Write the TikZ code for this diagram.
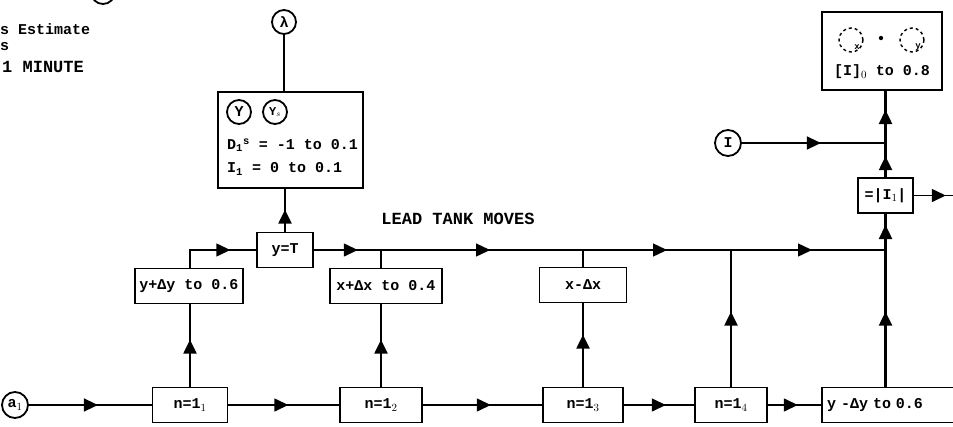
\documentclass[tikz,border=0pt]{standalone}
\usepackage{fontspec}
\setmonofont{Liberation Mono}
\usetikzlibrary{arrows.meta,decorations.markings}
\begin{document}
\begin{tikzpicture}[x=1pt,y=-1pt,
  font=\ttfamily\bfseries\fontsize{15}{17}\selectfont,
  box/.style={draw,line width=1.6pt,minimum height=35pt,inner sep=2pt},
  ln/.style={line width=1.4pt},
  vl/.style={line width=2.4pt},
  arr/.style={postaction={decorate},decoration={markings,mark=at position #1 with {\arrow{Triangle[length=14pt,width=13pt]}}}},
  circ/.style={draw,circle,line width=1.8pt,minimum size=24pt,inner sep=0pt},
  dcirc/.style={draw,circle,dashed,line width=1.4pt,minimum size=24pt,inner sep=0pt},
  small/.style={font=\ttfamily\bfseries\fontsize{9}{10}\selectfont},
  txt/.style={anchor=west,inner sep=0pt}]
\useasboundingbox (0,0) rectangle (953,426);

% left notes
\node[circ] (topc) at (103,-8) {};
\node[txt] (t1) at (0,29) {s Estimate};
\node[txt] (t2) at (0,47) {s};
\node[txt,font=\ttfamily\bfseries\fontsize{17}{19}\selectfont] (t3) at (2,67) {1 MINUTE};

% lambda and initial box
\node[circ] (lam) at (284,22) {λ};
\node[draw,line width=1.6pt,minimum width=145pt,minimum height=96pt] (bigbox) at (290.5,140) {};
\node[circ] (cY) at (239,112) {Y};
\node[circ,font=\ttfamily\bfseries\fontsize{12}{14}\selectfont] (cYs) at (275,112) {Y$_s$};
\node[txt] (dl) at (227,145) {D\textsubscript{1}\textsuperscript{s} = -1 to 0.1};
\node[txt] (il) at (227,169) {I\textsubscript{1} = 0 to 0.1};

\node[font=\ttfamily\bfseries\fontsize{17}{19}\selectfont] (lead) at (458,219) {LEAD TANK MOVES};

% top row
\node[box,minimum width=56pt] (yT) at (285,250) {y=T};
\node[box,minimum width=108pt] (ydy) at (189,286) {y+Δy to 0.6};
\node[box,minimum width=112pt] (xdx) at (386,286) {x+Δx to 0.4};
\node[box,minimum width=87pt] (xmdx) at (583,285) {x-Δx};

% bottom row
\node[circ,minimum size=26pt] (a1) at (15,405) {a$_1$};
\node[box,minimum width=75pt] (n1) at (190,405) {n=1$_1$};
\node[box,minimum width=82pt] (n2) at (381,405) {n=1$_2$};
\node[box,minimum width=80pt] (n3) at (583,405) {n=1$_3$};
\node[box,minimum width=72pt] (n4) at (731,405) {n=1$_4$};
\node[box,minimum width=142pt,text width=132pt,align=left] (ydy2) at (893,405) {y -Δy to 0.6};

% right column
\node[draw,line width=1.6pt,minimum width=120pt,minimum height=78pt] (trbox) at (882,51) {};
\node[dcirc] (cx) at (851,40) {};
\node[small] (cxl) at (857,47) {x};
\node (dot) at (881,40) {•};
\node[dcirc] (cy) at (912,40) {};
\node[small] (cyl) at (918,47) {y};
\node (trl) at (882,72) {[I]$_0$ to 0.8};
\node[circ,minimum size=26pt] (Ic) at (728,143) {I};
\node[box,minimum width=55pt] (I1) at (885.5,195.5) {=|I$_1$|};

\coordinate (j1) at (381,250);
\coordinate (j2) at (583,250);
\coordinate (j3) at (731,250);
\coordinate (j4) at (885.5,250);
\coordinate (jI) at (885.5,143);
\coordinate (out) at (953,195.5);

% connectors top
\draw[ln] (lam) -- (lam |- bigbox.north);
\draw[vl,arr=22pt] (yT.north) -- (yT.north |- bigbox.south);
\draw[ln,arr=58pt] (ydy.north -| n1) |- (yT.west);
\draw[ln,arr=44pt] (yT.east) -- (j1);
\draw[ln] (xdx.north -| j1) -- (j1);
\draw[ln,arr=109pt] (j1) -- (j2);
\draw[ln] (xmdx.north) -- (j2);
\draw[ln,arr=84pt] (j2) -- (j3);
\draw[ln,arr=81pt] (j3) -- (j4);
\draw[vl,arr=25pt] (j4) -- (I1.south);
\draw[vl,arr=21pt] (I1.north) -- (jI);
\draw[vl,arr=33pt] (jI) -- (jI |- trbox.south);
\draw[ln,arr=79pt] (Ic) -- (jI);
\draw[ln,arr=32pt] (I1.east) -- (out);

% vertical arrows
\draw[vl,arr=47pt] (n1.north) -- (n1.north |- ydy.south);
\draw[vl,arr=47pt] (n2.north) -- (n2.north |- xdx.south);
\draw[vl,arr=52pt] (n3.north) -- (xmdx.south);
\draw[vl,arr=75pt] (n4.north) -- (j3);
\draw[vl,arr=75pt] (ydy2.north -| j4) -- (j4);

% bottom line
\draw[ln,arr=69pt] (a1) -- (n1);
\draw[ln,arr=60pt] (n1) -- (n2);
\draw[ln,arr=68pt] (n2) -- (n3);
\draw[ln,arr=42pt] (n3) -- (n4);
\draw[ln,arr=30pt] (n4) -- (ydy2);
\end{tikzpicture}
\end{document}
